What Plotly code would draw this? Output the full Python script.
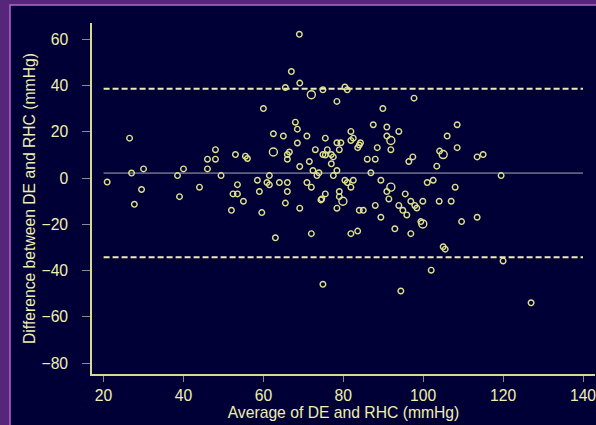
import plotly.graph_objects as go

# ---- data ----
avg = [20.9, 26.5, 27.0, 29.5, 30.0, 27.7, 38.5, 39.0, 40.0, 44.0, 46.0, 46.0, 48.0, 48.0, 49.4,
       52.0, 52.4, 53.5, 53.5, 53.0, 55.0, 55.5, 56.0, 58.5, 59.0, 59.6, 60.0, 60.9, 61.5, 61.5,
       62.5, 64.0, 65.0, 65.5, 65.5, 66.0, 66.0, 66.0, 66.5, 66.0, 67.0, 68.0, 68.5, 68.5, 69.0,
       69.1, 69.1, 69.1, 63.0, 74.9, 78.4, 80.4, 81.0, 89.9, 97.7, 87.5, 90.9, 93.9, 90.9, 91.9,
       88.5, 86.0, 88.0, 86.9, 89.4, 81.9, 82.5, 81.9, 84.3, 84.0, 83.6, 78.4, 79.4, 79.0, 75.5,
       70.9, 73.0, 76.0, 74.9, 75.5, 77.0, 77.5, 71.5, 77.0, 72.4, 73.9, 73.4, 77.5, 78.4, 70.9,
       72.0, 80.4, 81.0, 82.5, 81.9, 75.5, 74.6, 74.4, 79.0, 79.0, 78.4, 84.0, 85.0, 88.0, 89.4,
       90.9, 91.4, 93.9, 94.9, 95.9, 95.5, 96.9, 97.9, 98.4, 99.9, 104.0, 107.0, 101.0, 102.5, 108.0,
       103.4, 96.4, 97.4, 104.1, 106.0, 108.5, 108.5, 113.5, 115.0, 119.5, 113.5, 72.0, 81.9, 83.6, 92.9,
       96.9, 99.4, 109.6, 105.0, 105.5, 102.0, 120.0, 74.9, 94.4, 127.0]
diff = [-1.7, 17.3, 2.2, -4.9, 4.0, -11.3, 1.1, -8.0, 4.0, -3.9, 8.2, 4.0, 12.3, 8.2, 1.1,
        -13.9, -6.8, -6.8, -2.8, 10.2, -10.0, 9.5, 8.5, -0.9, -5.8, -14.9, 30.1, -1.9, 1.1, -2.9,
        19.2, -1.9, 18.2, 39.2, -10.8, -1.9, -5.8, 10.2, 11.3, 8.2, 46.1, 24.2, 21.2, 15.2, 62.2,
        41.1, 5.0, -13.0, -25.8, 38.2, 33.2, 39.4, 38.2, 30.1, 34.6, 23.1, 22.1, 20.2, 18.2, 12.3,
        13.2, 8.2, 8.2, 2.3, -0.9, 20.2, 17.3, 16.3, 15.3, 14.3, 13.2, 15.3, 15.3, 12.3, 17.3,
        18.2, 12.3, 12.3, 10.2, 10.0, 10.2, 9.2, 7.2, 6.2, 3.3, 2.3, 1.1, 1.1, 3.3, -1.9,
        -3.9, -0.9, -1.9, -0.9, -3.9, -6.8, -9.0, -9.4, -5.8, -8.0, -13.0, -13.9, -13.9, -11.8, -16.9,
        -5.8, -9.0, -11.8, -13.9, -15.9, -6.8, -10.0, -11.8, -12.9, -10.0, -10.0, -10.0, -1.9, -0.9, -3.9,
        5.2, 7.2, 9.2, 11.7, 18.2, 23.1, 13.2, 9.2, 10.2, 1.1, -16.9, -24.0, -24.0, -22.9, -21.9,
        -24.0, -18.8, -18.8, -29.7, -30.7, -39.8, -35.8, -45.9, -48.8, -53.9]

# points with coinciding observations (drawn as larger circles)
avg_multi = [62.5, 72.0, 79.9, 91.9, 91.9, 105.0, 99.9]
diff_multi = [11.3, 36.1, -10.0, 16.3, -3.9, 10.2, -19.8]

mean_diff = 2.2
upper_loa = 38.7
lower_loa = -34.2
line_x = [20, 140]

x_ticks = [20, 40, 60, 80, 100, 120, 140]
y_ticks = [-80, -60, -40, -20, 0, 20, 40, 60]

# ---- style ----
NAVY = "#000036"
PURPLE = "#55267a"
MARK = "#dfe28c"
TEXT = "#eef0ae"
AXIS = "#d6dc8c"
FONT = "Liberation Sans, Arial, sans-serif"
FS = 15.7

L, R, T, B = 92, 595, 23, 374
W, H = R - L, B - T


def px2paper_x(px):
    return (px - L) / W


def px2paper_y(py):
    return (B - py) / H


fig = go.Figure()

fig.add_trace(go.Scatter(x=line_x, y=[mean_diff, mean_diff], mode="lines",
                         line=dict(color="#a8a8b8", width=1), hoverinfo="skip", showlegend=False))
for v in (upper_loa, lower_loa):
    fig.add_trace(go.Scatter(x=line_x, y=[v, v], mode="lines",
                             line=dict(color="#ecebb4", width=2, dash="6px,3px"),
                             hoverinfo="skip", showlegend=False))

fig.add_trace(go.Scatter(x=avg, y=diff, mode="markers", showlegend=False,
                         marker=dict(symbol="circle-open", size=5.6, color=MARK,
                                     line=dict(width=1.4, color=MARK))))
fig.add_trace(go.Scatter(x=avg_multi, y=diff_multi, mode="markers", showlegend=False,
                         marker=dict(symbol="circle-open", size=8, color=MARK,
                                     line=dict(width=1.4, color=MARK))))

fig.add_shape(type="rect", xref="paper", yref="paper", layer="below",
              x0=px2paper_x(10), x1=px2paper_x(600), y0=px2paper_y(430), y1=px2paper_y(5),
              fillcolor=NAVY, line=dict(color="#b468c8", width=1.5))

fig.update_layout(
    width=596, height=425,
    margin=dict(l=L, r=596 - R, t=T, b=425 - B, autoexpand=False),
    paper_bgcolor=PURPLE, plot_bgcolor=NAVY,
    font=dict(family=FONT, color=TEXT, size=FS),
    xaxis=dict(range=[17.1, 143.0], tickvals=x_ticks, showgrid=False, zeroline=False,
               showline=True, linecolor=AXIS, linewidth=1.5, ticks="outside", ticklen=6,
               tickcolor="#8a8a90", tickwidth=1.2, tickfont=dict(size=FS, color=TEXT),
               automargin=False, ticklabeloverflow="allow",
               title=dict(text="Average of DE and RHC (mmHg)", font=dict(size=FS, color=TEXT),
                          standoff=4)),
    yaxis=dict(range=[-84.7, 67.1], tickvals=y_ticks, showgrid=False, zeroline=False,
               showline=True, linecolor=AXIS, linewidth=1.5, ticks="outside", ticklen=8,
               tickcolor="#8a8a90", tickwidth=1.2, tickfont=dict(size=FS, color=TEXT),
               ticklabelstandoff=11, automargin=False, ticklabeloverflow="allow",
               title=dict(text="Difference between DE and RHC (mmHg)",
                          font=dict(size=FS, color=TEXT), standoff=2)),
)

fig.write_html("out.html", config={"displayModeBar": False},
               post_script="document.body.style.margin='0px';document.body.style.overflow='hidden';")
